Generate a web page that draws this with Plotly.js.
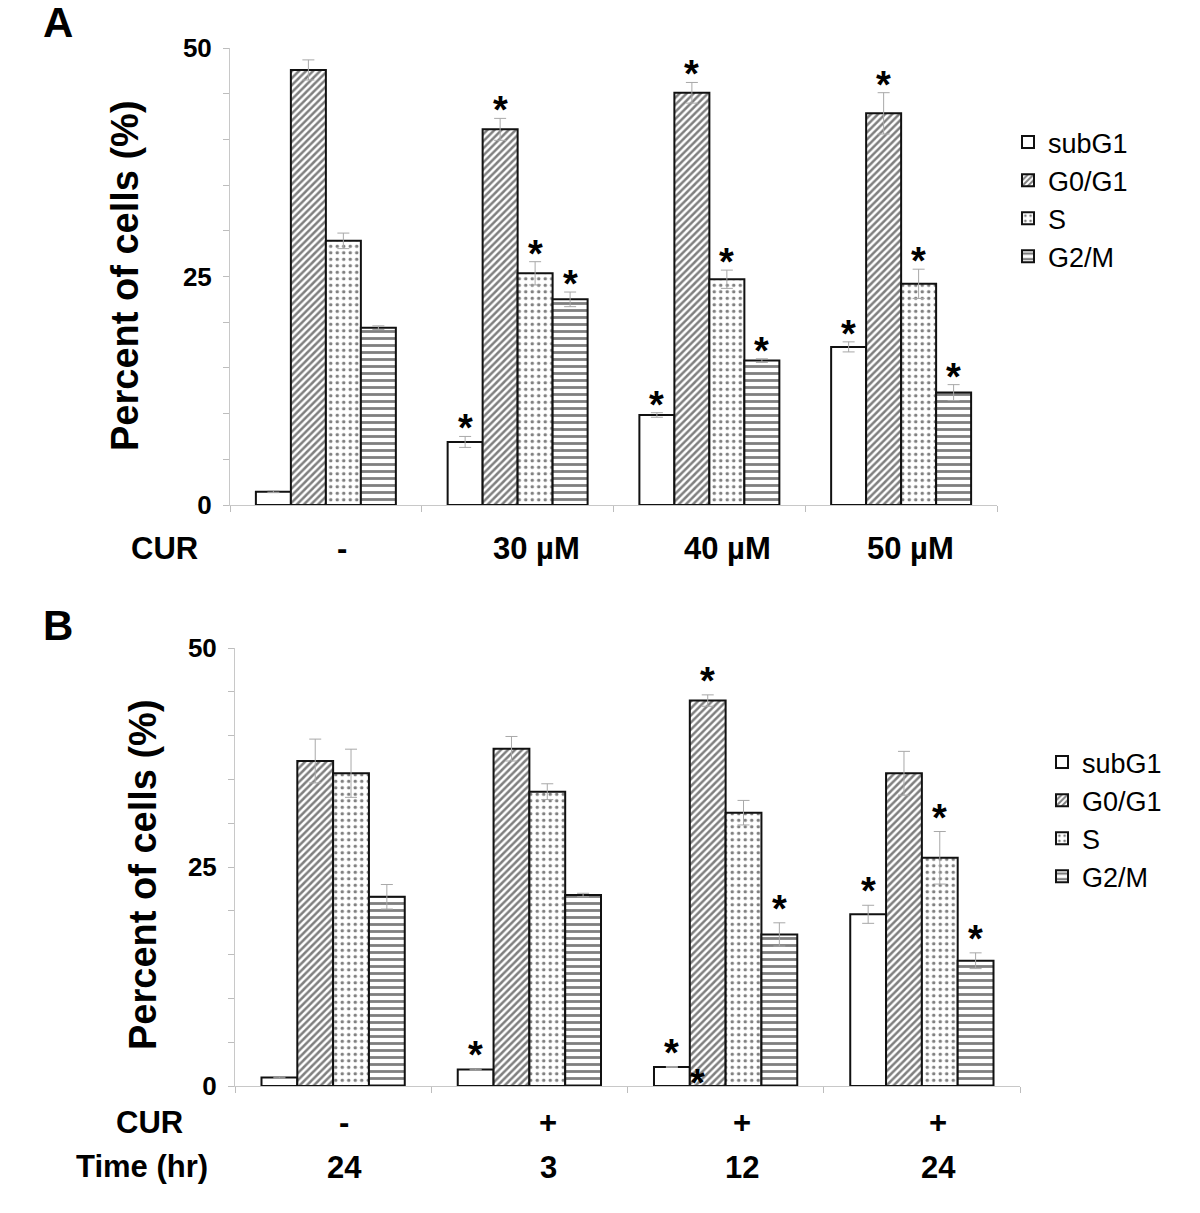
<!DOCTYPE html>
<html>
<head>
<meta charset="utf-8">
<script src="https://cdn.plot.ly/plotly-3.0.1.min.js"></script>
<style>html,body{margin:0;padding:0;background:#fff;}#chart{width:1200px;height:1213px;}</style>
</head>
<body>
<div id="chart"></div>
<script>
// ---------- DATA ----------
const seriesNames = ['subG1', 'G0/G1', 'S', 'G2/M'];

// Panel A: CUR concentration
const curLabelsA = ['-', '30 µM', '40 µM', '50 µM'];
const subG1_A = [1.45, 6.9, 9.85, 17.3];
const subG1_A_err = [0.1, 0.6, 0.25, 0.55];
const g0g1_A = [47.6, 41.1, 45.1, 42.85];
const g0g1_A_err = [1.1, 1.2, 1.13, 2.26];
const s_A = [28.9, 25.35, 24.7, 24.2];
const s_A_err = [0.85, 1.27, 1.0, 1.6];
const g2m_A = [19.4, 22.5, 15.8, 12.3];
const g2m_A_err = [0.2, 0.8, 0.2, 0.87];
// significance (asterisk) flags, per series, per group
const sig_A = [[0,1,1,1],[0,1,1,1],[0,1,1,1],[0,1,1,1]];

// Panel B: time course
const curLabelsB = ['-', '+', '+', '+'];
const timeLabelsB = ['24', '3', '12', '24'];
const subG1_B = [0.96, 1.87, 2.17, 19.6];
const subG1_B_err = [0.05, 0.05, 0.05, 1.03];
const g0g1_B = [37.1, 38.5, 44.0, 35.7];
const g0g1_B_err = [2.5, 1.4, 0.65, 2.5];
const s_B = [35.7, 33.6, 31.2, 26.05];
const s_B_err = [2.75, 0.9, 1.4, 3.0];
const g2m_B = [21.6, 21.8, 17.3, 14.3];
const g2m_B_err = [1.4, 0.2, 1.33, 0.9];
const sig_B = [[0,1,1,1],[0,0,1,0],[0,0,0,1],[0,0,1,1]];
// extra asterisk drawn at the base of the G0/G1 bar, 12 hr group
const extraStarB = {group: 2, series: 1, value: 0};

// ---------- STYLE ----------
const FONT = 'Liberation Sans, Arial, Helvetica, sans-serif';
const BARGAP = 0.27;
const patterns = [
  {shape: ''},
  {shape: '/', size: 5, solidity: 0.5},
  {shape: '.', size: 6.5, solidity: 0.22},
  {shape: '-', size: 7, solidity: 0.4}
];
const xpos = [0, 1, 2, 3];

function makeTraces(vals, errs, xa, ya, legendName) {
  return vals.map((v, j) => ({
    type: 'bar', name: seriesNames[j], x: xpos, y: v,
    xaxis: xa, yaxis: ya, legend: legendName,
    marker: {
      color: 'white',
      line: {color: '#111', width: 2},
      pattern: Object.assign({fgcolor: '#000', bgcolor: 'white', fillmode: 'overlay'}, patterns[j])
    },
    error_y: {type: 'data', array: errs[j], visible: true, color: '#a8a8a8', thickness: 1, width: 6},
    hoverinfo: 'y'
  }));
}

const tracesA = makeTraces([subG1_A, g0g1_A, s_A, g2m_A], [subG1_A_err, g0g1_A_err, s_A_err, g2m_A_err], 'x', 'y', 'legend');
const tracesB = makeTraces([subG1_B, g0g1_B, s_B, g2m_B], [subG1_B_err, g0g1_B_err, s_B_err, g2m_B_err], 'x2', 'y2', 'legend2');

function offset(j) { return (j - 1.5) * (1 - BARGAP) / 4; }

const STAR_FONT = {family: FONT, size: 38, color: '#000', weight: 'bold'};
const annotations = [];
function stars(vals, errs, sig, xref, yref, yshift) {
  vals.forEach((v, j) => v.forEach((val, i) => {
    if (sig[j][i]) annotations.push({
      x: i + offset(j), y: val + errs[j][i], xref: xref, yref: yref,
      text: '*', showarrow: false, xanchor: 'center', yanchor: 'middle', yshift: yshift,
      font: STAR_FONT
    });
  }));
}
stars([subG1_A, g0g1_A, s_A, g2m_A], [subG1_A_err, g0g1_A_err, s_A_err, g2m_A_err], sig_A, 'x', 'y', 8);
stars([subG1_B, g0g1_B, s_B, g2m_B], [subG1_B_err, g0g1_B_err, s_B_err, g2m_B_err], sig_B, 'x2', 'y2', 14);
annotations.push({
  x: extraStarB.group + offset(extraStarB.series), y: extraStarB.value, xref: 'x2', yref: 'y2',
  text: '*', showarrow: false, xanchor: 'center', yanchor: 'middle', yshift: 3, xshift: -10,
  font: STAR_FONT
});

const H = 1213, W = 1200;
const px = v => v / W, py = v => 1 - v / H;
const boldFont = (s) => ({family: FONT, size: s, color: '#000', weight: 'bold'});
function label(x, y, text, size, angle) {
  annotations.push({xref: 'paper', yref: 'paper', x: px(x), y: py(y), text: text, showarrow: false,
    xanchor: 'center', yanchor: 'middle', textangle: angle || 0, font: boldFont(size)});
}

// panel letters
label(58, 23, 'A', 42);
label(58, 625, 'B', 42);
// y titles
label(125, 276, 'Percent of cells (%)', 38, -90);
label(143, 875, 'Percent of cells (%)', 38, -90);
// row labels
label(164, 548, 'CUR', 31);
const curAx = [342, 536, 727, 910];
curLabelsA.forEach((t, i) => label(curAx[i], 548, t, 31));
label(149, 1122, 'CUR', 31);
label(142, 1166, 'Time (hr)', 31);
const bx = [344, 548, 742, 938];
curLabelsB.forEach((t, i) => label(bx[i], 1122, t, 31));
timeLabelsB.forEach((t, i) => label(bx[i], 1167, t, 31));

function xaxisCfg(domain, anchor) {
  return {
    domain: domain, anchor: anchor, range: [-0.5, 3.5], fixedrange: true,
    tickvals: [-0.5, 0.5, 1.5, 2.5, 3.5], showticklabels: false,
    ticks: 'outside', ticklen: 6, tickcolor: '#bdbdbd', tickwidth: 1,
    showline: true, linecolor: '#c8c8c8', linewidth: 1, showgrid: false, zeroline: false
  };
}
function yaxisCfg(domain, anchor) {
  return {
    domain: domain, anchor: anchor, range: [0, 50], fixedrange: true,
    tickvals: [0, 25, 50], ticks: 'outside', ticklen: 6, tickcolor: '#bdbdbd', tickwidth: 1,
    minor: {tickvals: [5,10,15,20,30,35,40,45], ticks: 'outside', ticklen: 6, tickcolor: '#bdbdbd', showgrid: false},
    showline: true, linecolor: '#c8c8c8', linewidth: 1, showgrid: false, zeroline: false,
    tickfont: boldFont(26), ticklabelstandoff: 6
  };
}

const layout = {
  width: W, height: H,
  margin: {l: 0, r: 0, t: 0, b: 0},
  paper_bgcolor: 'white', plot_bgcolor: 'white',
  barmode: 'group', bargap: BARGAP, bargroupgap: 0,
  showlegend: true,
  xaxis: xaxisCfg([px(230), px(997)], 'y'),
  yaxis: yaxisCfg([py(505), py(48)], 'x'),
  xaxis2: xaxisCfg([px(235), px(1020)], 'y2'),
  yaxis2: yaxisCfg([py(1086), py(648)], 'x2'),
  legend: {x: px(1008), y: py(118), xanchor: 'left', yanchor: 'top', bgcolor: 'rgba(0,0,0,0)',
           font: {family: FONT, size: 27, color: '#000'}, traceorder: 'normal', borderwidth: 0},
  legend2: {x: px(1042), y: py(738), xanchor: 'left', yanchor: 'top', bgcolor: 'rgba(0,0,0,0)',
           font: {family: FONT, size: 27, color: '#000'}, traceorder: 'normal', borderwidth: 0},
  annotations: annotations
};

Plotly.newPlot('chart', tracesA.concat(tracesB), layout, {displayModeBar: false, staticPlot: true});
</script>
</body>
</html>
